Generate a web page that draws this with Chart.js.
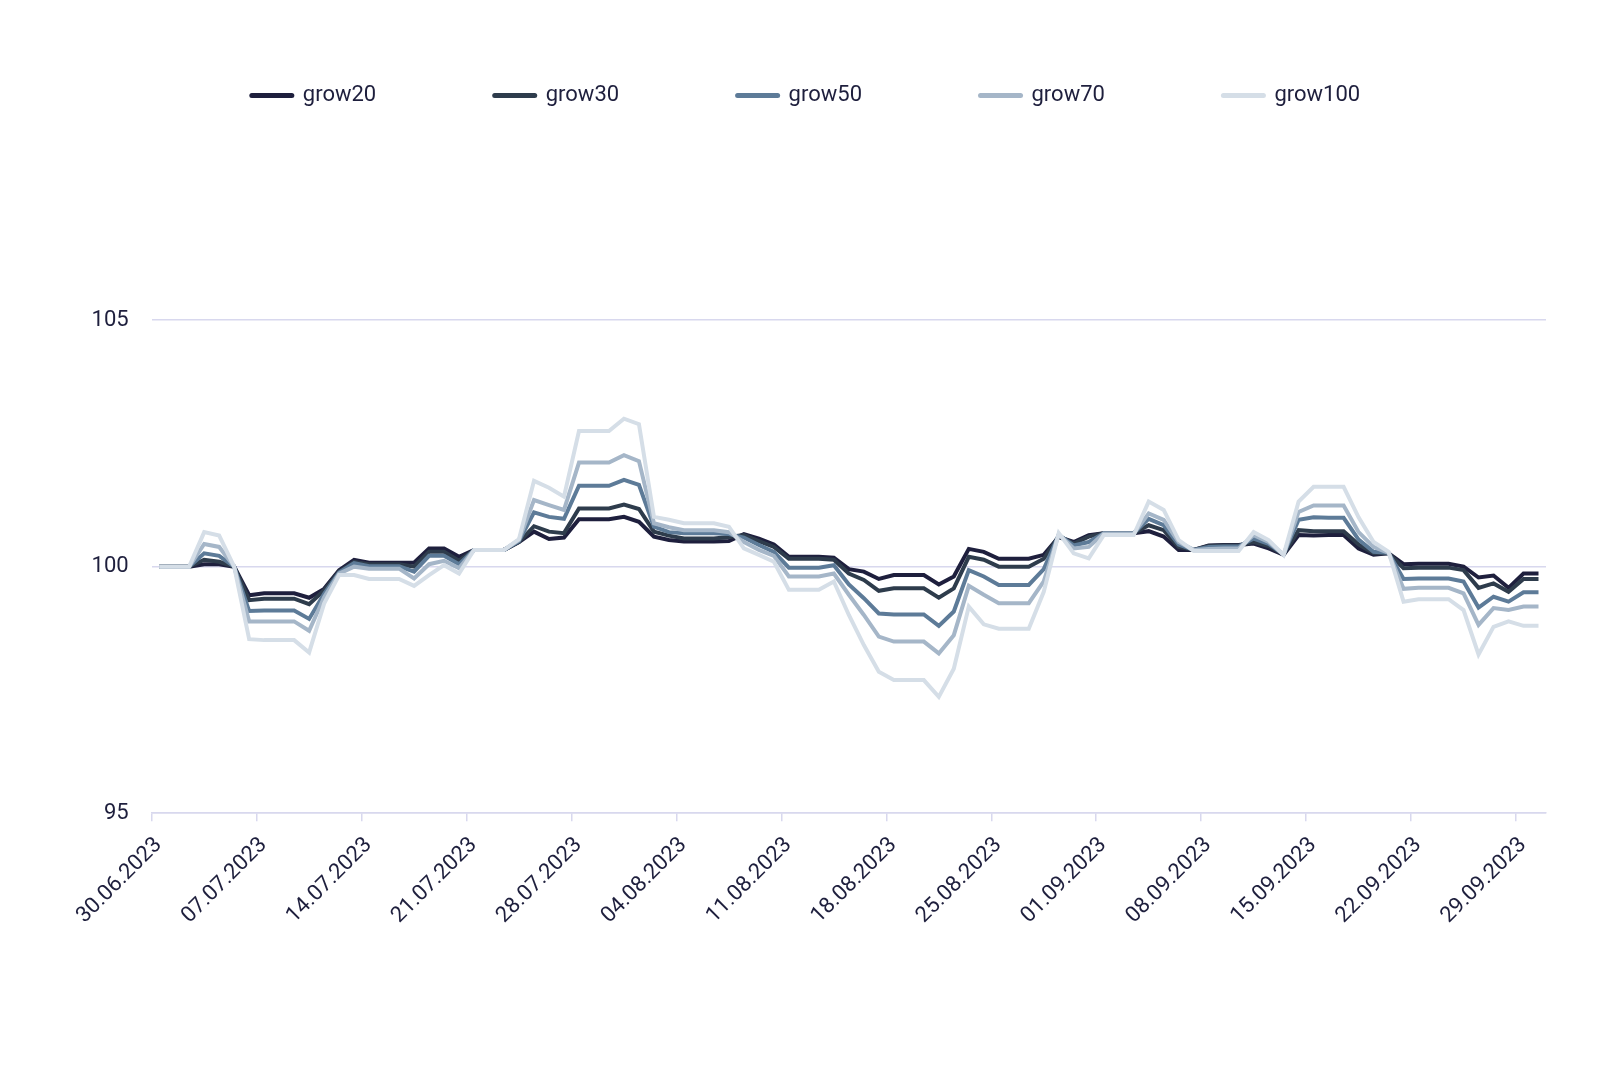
<!DOCTYPE html>
<html>
<head>
<meta charset="utf-8">
<script src="https://cdn.jsdelivr.net/npm/chart.js@4.4.1/dist/chart.umd.min.js"></script>
<style>
html,body{margin:0;padding:0;background:#ffffff;}
canvas{display:block;}
</style>
</head>
<body>
<canvas id="c" width="1600" height="1074"></canvas>
<script>
// ---------- data ----------
const seriesNames = ['grow20', 'grow30', 'grow50', 'grow70', 'grow100'];
const seriesColors = ['#1e1f3d', '#2e3c4c', '#5d7b98', '#a5b6c8', '#d5dee7'];
// x tick labels (one every 7 days, first = 30.06.2023 = day 0)
const tickLabels = ['30.06.2023', '07.07.2023', '14.07.2023', '21.07.2023', '28.07.2023',
  '04.08.2023', '11.08.2023', '18.08.2023', '25.08.2023', '01.09.2023',
  '08.09.2023', '15.09.2023', '22.09.2023', '29.09.2023'];
const yTickValues = [95, 100, 105];

// daily values from 30.06.2023 to 30.09.2023 (93 days)
const grow20 = [100, 100, 100, 100.05, 100.05, 100.0, 99.42, 99.46, 99.46, 99.46,
  99.37, 99.55, 99.93, 100.14, 100.08, 100.08, 100.08, 100.08, 100.37, 100.37,
  100.2, 100.34, 100.34, 100.34, 100.5, 100.71, 100.56, 100.59, 100.96, 100.96,
  100.96, 101.01, 100.91, 100.61, 100.54, 100.51, 100.51, 100.51, 100.52, 100.66,
  100.57, 100.45, 100.2, 100.2, 100.2, 100.18, 99.95, 99.9, 99.75, 99.83,
  99.83, 99.83, 99.64, 99.8, 100.36, 100.3, 100.16, 100.16, 100.16, 100.24,
  100.6, 100.5, 100.64, 100.68, 100.68, 100.68, 100.72, 100.61, 100.34, 100.34,
  100.43, 100.44, 100.44, 100.47, 100.37, 100.24, 100.64, 100.63, 100.64, 100.64,
  100.37, 100.24, 100.27, 100.05, 100.06, 100.06, 100.06, 100.0, 99.78, 99.82,
  99.57, 99.86, 99.86];
const grow30 = [100, 100, 100, 100.14, 100.1, 100.0, 99.32, 99.35, 99.35, 99.35,
  99.24, 99.52, 99.9, 100.1, 100.05, 100.05, 100.05, 100.0, 100.3, 100.3,
  100.12, 100.34, 100.34, 100.34, 100.5, 100.82, 100.71, 100.68, 101.18, 101.18,
  101.18, 101.26, 101.17, 100.71, 100.63, 100.57, 100.57, 100.57, 100.6, 100.64,
  100.52, 100.4, 100.16, 100.16, 100.16, 100.14, 99.86, 99.73, 99.51, 99.56,
  99.56, 99.56, 99.37, 99.56, 100.2, 100.14, 100.0, 100.0, 100.0, 100.16,
  100.62, 100.47, 100.61, 100.68, 100.68, 100.68, 100.84, 100.74, 100.4, 100.34,
  100.42, 100.43, 100.43, 100.5, 100.42, 100.25, 100.74, 100.72, 100.72, 100.72,
  100.45, 100.27, 100.27, 99.97, 99.98, 99.98, 99.98, 99.93, 99.57, 99.66,
  99.49, 99.75, 99.75];
const grow50 = [100, 100, 100, 100.27, 100.22, 100.0, 99.1, 99.11, 99.11, 99.11,
  98.94, 99.45, 99.88, 100.07, 100.01, 100.01, 100.01, 99.9, 100.22, 100.22,
  100.05, 100.34, 100.34, 100.34, 100.52, 101.1, 101.01, 100.97, 101.64, 101.64,
  101.64, 101.76, 101.66, 100.81, 100.7, 100.68, 100.68, 100.68, 100.66, 100.59,
  100.44, 100.3, 99.98, 99.98, 99.98, 100.03, 99.64, 99.36, 99.05, 99.03,
  99.03, 99.03, 98.8, 99.09, 99.93, 99.8, 99.63, 99.63, 99.63, 99.95,
  100.64, 100.43, 100.5, 100.68, 100.68, 100.68, 100.97, 100.84, 100.45, 100.34,
  100.4, 100.41, 100.41, 100.57, 100.46, 100.25, 100.95, 101.0, 100.99, 100.99,
  100.55, 100.3, 100.28, 99.75, 99.76, 99.76, 99.76, 99.7, 99.17, 99.39,
  99.29, 99.48, 99.48];
const grow70 = [100, 100, 100, 100.46, 100.4, 100.0, 98.89, 98.89, 98.89, 98.89,
  98.7, 99.38, 99.86, 100.0, 99.96, 99.96, 99.96, 99.76, 100.05, 100.12,
  99.97, 100.34, 100.34, 100.34, 100.54, 101.35, 101.25, 101.15, 102.11, 102.11,
  102.11, 102.26, 102.14, 100.88, 100.8, 100.74, 100.74, 100.74, 100.7, 100.5,
  100.34, 100.22, 99.8, 99.8, 99.8, 99.86, 99.43, 99.02, 98.58, 98.48,
  98.48, 98.48, 98.24, 98.61, 99.61, 99.43, 99.26, 99.26, 99.26, 99.7,
  100.66, 100.37, 100.4, 100.67, 100.67, 100.67, 101.08, 100.95, 100.5, 100.34,
  100.36, 100.37, 100.37, 100.64, 100.5, 100.24, 101.11, 101.24, 101.24, 101.24,
  100.7, 100.4, 100.28, 99.55, 99.57, 99.57, 99.57, 99.46, 98.82, 99.16,
  99.12, 99.19, 99.19];
const grow100 = [100, 100, 100, 100.7, 100.63, 100.0, 98.53, 98.51, 98.51, 98.51,
  98.26, 99.25, 99.83, 99.83, 99.75, 99.75, 99.75, 99.61, 99.83, 100.03,
  99.86, 100.34, 100.34, 100.34, 100.56, 101.74, 101.6, 101.42, 102.75, 102.75,
  102.75, 103.0, 102.89, 101.01, 100.95, 100.88, 100.88, 100.88, 100.81, 100.37,
  100.24, 100.1, 99.53, 99.53, 99.53, 99.7, 99.02, 98.41, 97.87, 97.7,
  97.7, 97.7, 97.36, 97.93, 99.19, 98.83, 98.74, 98.74, 98.74, 99.49,
  100.68, 100.27, 100.17, 100.64, 100.64, 100.64, 101.32, 101.15, 100.54, 100.32,
  100.32, 100.32, 100.32, 100.7, 100.54, 100.24, 101.32, 101.62, 101.62, 101.62,
  101.0, 100.5, 100.3, 99.29, 99.34, 99.34, 99.34, 99.12, 98.22, 98.78,
  98.89, 98.8, 98.8];
const seriesValues = [grow20, grow30, grow50, grow70, grow100];

// ---------- chart ----------
const TEXT = '#1e1f3d';
const GRID = '#d8d8ee';
const FONT = {family: 'Roboto', size: 22};
const DAYS = grow20.length;          // number of daily observations
const STEP = 7;                      // days between labelled ticks

const datasets = seriesNames.map((name, s) => ({
  label: name,
  data: seriesValues[s].map((v, i) => ({x: i + 0.5, y: v})),
  borderColor: seriesColors[s],
  backgroundColor: seriesColors[s],
  borderWidth: 4,
  pointRadius: 0,
  pointHoverRadius: 0,
  tension: 0,
  fill: false,
  order: seriesNames.length - s
}));

new Chart(document.getElementById('c'), {
  type: 'line',
  data: {datasets},
  options: {
    responsive: false,
    animation: false,
    devicePixelRatio: 1,
    layout: {padding: {top: -34, left: 66, right: 54, bottom: 134}},
    plugins: {
      tooltip: {enabled: false},
      legend: {
        position: 'top',
        align: 'center',
        labels: {
          font: FONT,
          color: TEXT,
          usePointStyle: true,
          pointStyle: 'line',
          pointStyleWidth: 40,
          padding: 118.5,
          sort: (a, b) => a.datasetIndex - b.datasetIndex,
          generateLabels: (chart) => {
            const items = Chart.defaults.plugins.legend.labels.generateLabels(chart);
            items.forEach(it => {
              it.lineWidth = 5;
              it.lineCap = 'round';
              it.strokeStyle = seriesColors[it.datasetIndex];
              it.fillStyle = seriesColors[it.datasetIndex];
              it.fontColor = TEXT;
            });
            return items;
          }
        }
      }
    },
    scales: {
      x: {
        type: 'linear',
        min: 0,
        max: DAYS,
        afterBuildTicks: (axis) => {
          axis.ticks = tickLabels.map((l, k) => ({value: k * STEP}));
        },
        ticks: {
          autoSkip: false,
          minRotation: 45,
          maxRotation: 45,
          padding: 11,
          labelOffset: 7,
          font: FONT,
          color: TEXT,
          callback: (value, index) => tickLabels[index]
        },
        grid: {
          drawOnChartArea: false,
          drawTicks: true,
          tickLength: 8,
          color: GRID,
          lineWidth: 1.5
        },
        border: {display: true, color: GRID, width: 1.5}
      },
      y: {
        type: 'linear',
        min: 95,
        max: 109.13,
        afterBuildTicks: (axis) => {
          axis.ticks = yTickValues.map(v => ({value: v}));
        },
        afterFit: (axis) => { axis.width = 85.7; },
        ticks: {
          padding: 23,
          font: FONT,
          color: TEXT,
          callback: (v) => String(v)
        },
        grid: {
          drawTicks: false,
          color: GRID,
          lineWidth: 1.5
        },
        border: {display: false}
      }
    }
  }
});
</script>
</body>
</html>
